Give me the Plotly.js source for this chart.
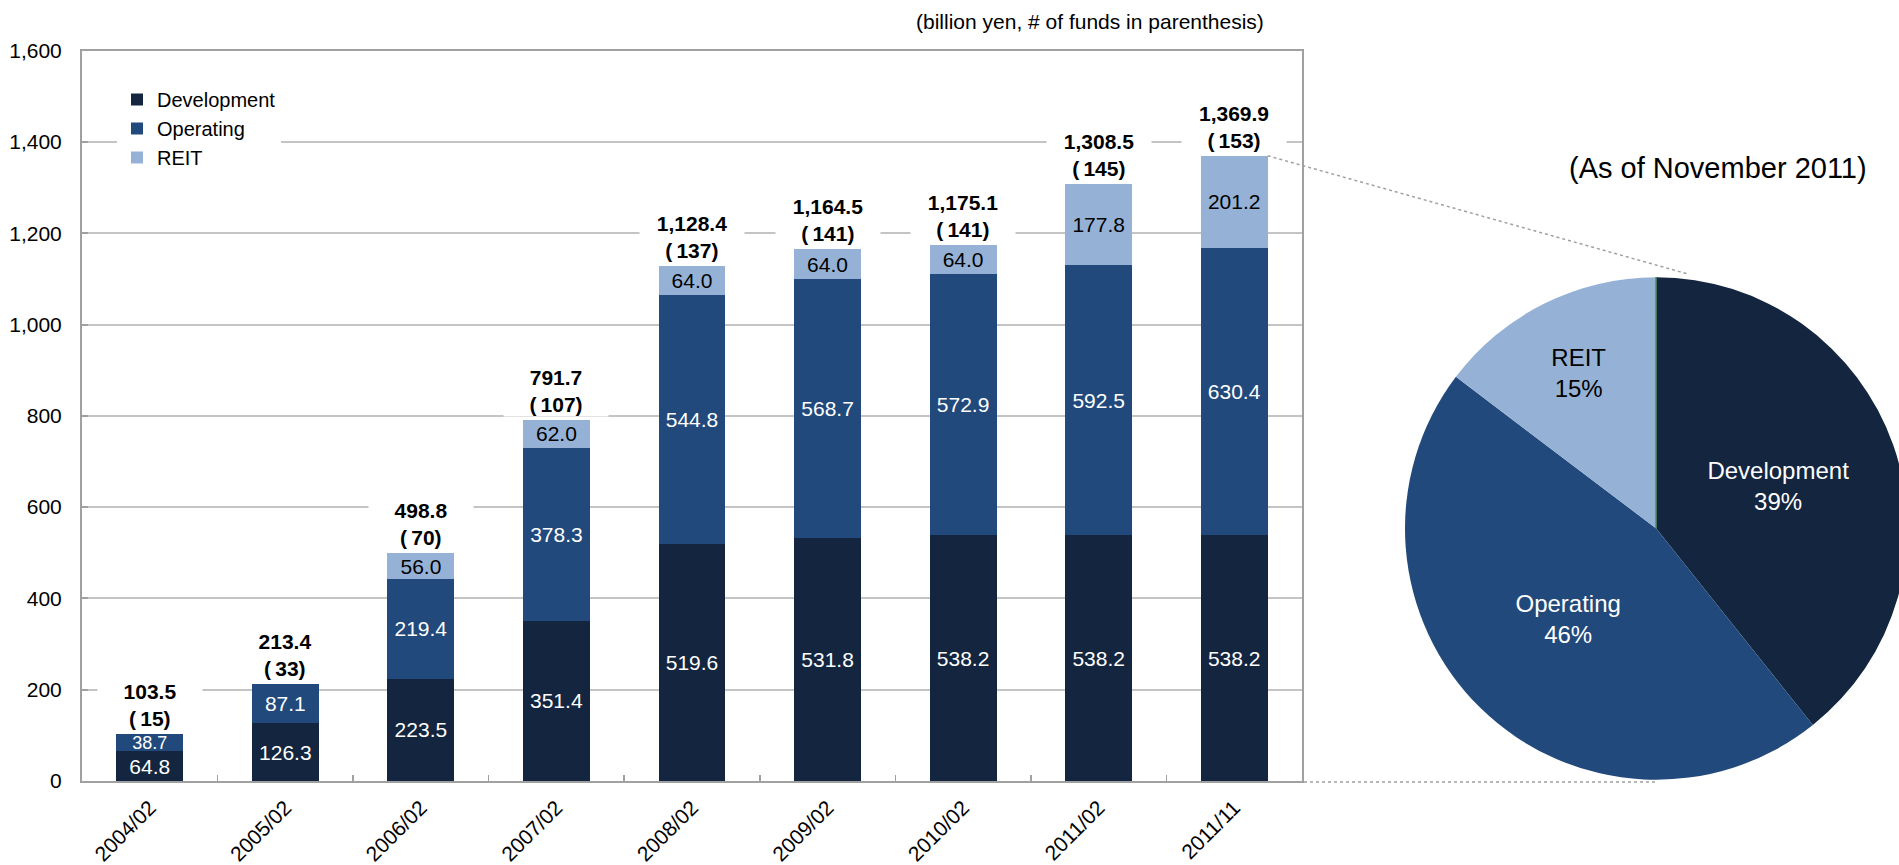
<!DOCTYPE html>
<html>
<head>
<meta charset="utf-8">
<script src="https://cdn.plot.ly/plotly-3.0.1.min.js"></script>
<style>
  html, body { margin: 0; padding: 0; overflow: hidden; background: #ffffff; }
  #chart { width: 1910px; height: 865px; }
</style>
</head>
<body>
<div id="chart"></div>
<script>
// ---------------- data ----------------
const categories = ['2004/02', '2005/02', '2006/02', '2007/02', '2008/02', '2009/02', '2010/02', '2011/02', '2011/11'];
const development = [64.8, 126.3, 223.5, 351.4, 519.6, 531.8, 538.2, 538.2, 538.2];
const operating   = [38.7, 87.1, 219.4, 378.3, 544.8, 568.7, 572.9, 592.5, 630.4];
const reit        = [null, null, 56.0, 62.0, 64.0, 64.0, 64.0, 177.8, 201.2];
const totals      = [103.5, 213.4, 498.8, 791.7, 1128.4, 1164.5, 1175.1, 1308.5, 1369.9];
const fundCounts  = [15, 33, 70, 107, 137, 141, 141, 145, 153];
const seriesNames = ['Development', 'Operating', 'REIT'];
const yTickValues = [0, 200, 400, 600, 800, 1000, 1200, 1400, 1600];
const unitNote    = '(billion yen, # of funds in parenthesis)';
const pieTitle    = '(As of November 2011)';
const lastIdx = categories.length - 1;
const pieValues = [development[lastIdx], operating[lastIdx], reit[lastIdx]];

// ---------------- styling / geometry ----------------
const W = 1910, H = 865;
const px = x => x / W;
const py = y => 1 - y / H;
const plotL = 82, plotR = 1302, plotT = 50.7, plotB = 781;
const yMax = 1600;
const bargap = 0.506;
const colors = ['#13253F', '#21497B', '#95B2D6'];
const FONT = '"Liberation Sans", Arial, sans-serif';

const catW = (plotR - plotL) / categories.length;
const yToPx = v => plotB - v / yMax * (plotB - plotT);

const barCommon = {
  type: 'bar',
  x: categories,
  textposition: 'inside',
  insidetextanchor: 'middle',
  constraintext: 'none',
  texttemplate: '%{y:.1f}',
  hoverinfo: 'skip'
};

const traces = [
  Object.assign({}, barCommon, {
    name: seriesNames[0], y: development,
    marker: { color: colors[0], line: { width: 0 } },
    textfont: { color: '#ffffff', size: 21, family: FONT }
  }),
  Object.assign({}, barCommon, {
    name: seriesNames[1], y: operating,
    marker: { color: colors[1], line: { width: 0 } },
    textfont: { color: '#ffffff', size: categories.map((c, i) => i === 0 ? 18 : 21), family: FONT }
  }),
  Object.assign({}, barCommon, {
    name: seriesNames[2], y: reit,
    marker: { color: colors[2], line: { width: 0 } },
    textfont: { color: '#000000', size: 21, family: FONT }
  }),
  {
    type: 'pie',
    labels: seriesNames,
    values: pieValues,
    sort: false,
    direction: 'clockwise',
    rotation: 0,
    marker: { colors: colors, line: { width: 0 } },
    textposition: 'inside',
    insidetextorientation: 'horizontal',
    texttemplate: '%{label}<br>%{percent:.0%}',
    insidetextfont: { family: FONT, size: 24, color: ['#ffffff', '#ffffff', '#000000'] },
    showlegend: false,
    hoverinfo: 'skip',
    domain: { x: [px(1405), px(1907.5)], y: [py(780), py(277)] }
  }
];

const fmt = v => v.toLocaleString('en-US', { minimumFractionDigits: 1, maximumFractionDigits: 1 });

const annotations = categories.map((c, i) => ({
  xref: 'x', yref: 'y', x: c, y: totals[i],
  xanchor: 'center', yanchor: 'bottom', yshift: 3,
  text: '<b>' + fmt(totals[i]) + '</b><br><b>(\u2009' + fundCounts[i] + ')</b>',
  showarrow: false,
  bgcolor: '#ffffff',
  width: 104,
  borderpad: 0,
  font: { family: FONT, size: 21, color: '#000000' }
}));

annotations.push({
  xref: 'paper', yref: 'paper', x: px(1266), y: py(22),
  xanchor: 'right', yanchor: 'middle',
  text: unitNote, showarrow: false,
  font: { family: FONT, size: 21, color: '#000000' }
});
annotations.push({
  xref: 'paper', yref: 'paper', x: px(1718), y: py(168),
  xanchor: 'center', yanchor: 'middle',
  text: pieTitle, showarrow: false,
  font: { family: FONT, size: 29, color: '#000000' }
});

// connector lines from the last bar to the pie
const barRightPx = plotL + catW * (lastIdx + 0.5) + catW * (1 - bargap) / 2;
const lastTopPx = yToPx(totals[lastIdx]);
const pieCx = 1656, pieTop = 277, pieCy = 528.5;
const shapes = [
  { type: 'line', xref: 'paper', yref: 'paper',
    x0: px(barRightPx), y0: py(lastTopPx), x1: px(1688), y1: py(274),
    line: { color: '#A0A0A0', width: 1.5, dash: 'dot' } },
  { type: 'line', xref: 'paper', yref: 'paper',
    x0: px(plotR + 2), y0: py(782), x1: px(pieCx), y1: py(782),
    line: { color: '#A0A0A0', width: 1.5, dash: 'dot' } },
  { type: 'line', xref: 'paper', yref: 'paper',
    x0: px(pieCx), y0: py(pieTop), x1: px(pieCx), y1: py(pieCy),
    line: { color: '#2E7D32', width: 1 } }
];

const layout = {
  width: W, height: H,
  margin: { l: 0, r: 0, t: 0, b: 0, pad: 0 },
  paper_bgcolor: '#ffffff',
  plot_bgcolor: '#ffffff',
  font: { family: FONT, color: '#000000' },
  barmode: 'stack',
  bargap: bargap,
  showlegend: true,
  legend: {
    x: px(117), y: py(80), xanchor: 'left', yanchor: 'top',
    traceorder: 'normal',
    bgcolor: '#ffffff',
    borderwidth: 0,
    font: { family: FONT, size: 20, color: '#000000' },
    itemclick: false, itemdoubleclick: false
  },
  xaxis: {
    domain: [px(plotL), px(plotR)],
    type: 'category',
    showgrid: false,
    showline: true, linecolor: '#A0A0A0', linewidth: 2, mirror: true,
    ticks: 'inside', tickson: 'boundaries', ticklen: 6, tickcolor: '#A0A0A0', tickwidth: 1.5,
    tickangle: -45,
    ticklabelstandoff: 4,
    tickfont: { family: FONT, size: 21, color: '#000000' },
    fixedrange: true
  },
  yaxis: {
    domain: [py(plotB), py(plotT)],
    range: [0, yMax],
    tickvals: yTickValues,
    tickformat: ',d',
    showgrid: true, gridcolor: '#C4C4C4', gridwidth: 2,
    zeroline: false,
    showline: true, linecolor: '#A0A0A0', linewidth: 2, mirror: true,
    ticks: 'inside', ticklen: 6, tickcolor: '#A0A0A0', tickwidth: 2,
    ticklabelstandoff: 14,
    tickfont: { family: FONT, size: 21, color: '#000000' },
    fixedrange: true
  },
  annotations: annotations,
  shapes: shapes
};

Plotly.newPlot('chart', traces, layout, { displayModeBar: false, staticPlot: true });
</script>
</body>
</html>
